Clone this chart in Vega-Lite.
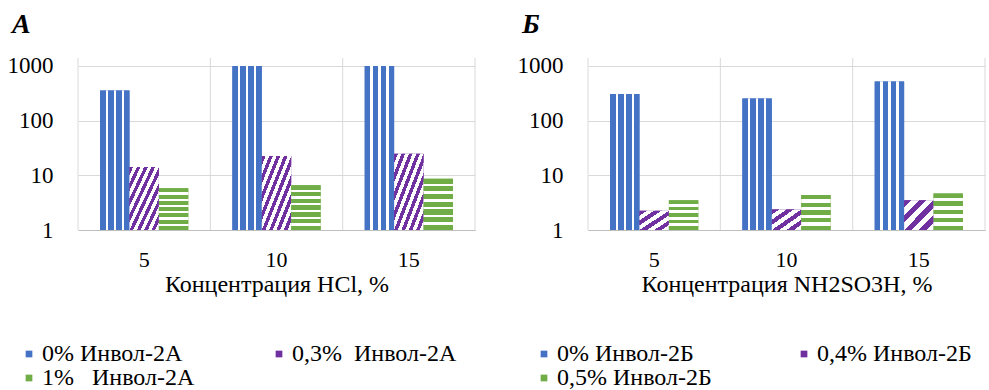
{
  "$schema": "https://vega.github.io/schema/vega-lite/v6.json",
  "background": "white",
  "padding": {"left": 7, "top": 10, "right": 0, "bottom": 0},
  "config": {"view": {"stroke": null}},
  "spacing": 41,
  "resolve": {"scale": {"color": "independent", "x": "independent", "y": "independent", "xOffset": "independent"}},
  "hconcat": [
    {
      "width": 397,
      "height": 172,
      "title": {"text": "А", "anchor": "start", "frame": "group", "dx": -66, "offset": 16, "fontSize": 28, "font": "Liberation Serif", "fontStyle": "italic", "fontWeight": "bold", "color": "#000000"},
      "data": {"values": [
        {"conc": "5", "series": "0% Инвол-2А", "value": 358},
        {"conc": "5", "series": "0,3%\u00a0\u00a0Инвол-2А", "value": 14.2},
        {"conc": "5", "series": "1%\u00a0\u00a0\u00a0Инвол-2А", "value": 5.8},
        {"conc": "10", "series": "0% Инвол-2А", "value": 1000},
        {"conc": "10", "series": "0,3%\u00a0\u00a0Инвол-2А", "value": 22.5},
        {"conc": "10", "series": "1%\u00a0\u00a0\u00a0Инвол-2А", "value": 6.6},
        {"conc": "15", "series": "0% Инвол-2А", "value": 1000},
        {"conc": "15", "series": "0,3%\u00a0\u00a0Инвол-2А", "value": 24.8},
        {"conc": "15", "series": "1%\u00a0\u00a0\u00a0Инвол-2А", "value": 8.7}
      ]},
      "resolve": {"scale": {"x": "independent", "y": "independent", "xOffset": "independent"}, "axis": {"x": "independent", "y": "independent"}},
      "layer": [
        {
          "data": {"values": [{"edge": 0}, {"edge": 1}, {"edge": 2}, {"edge": 3}]},
          "mark": {"type": "rule", "color": "#d9d9d9", "strokeWidth": 1},
          "encoding": {"x": {"field": "edge", "type": "quantitative", "scale": {"domain": [0, 3], "nice": false, "zero": false}, "axis": null}}
        },
        {
          "mark": {"type": "bar"},
          "encoding": {
            "x": {"field": "conc", "type": "ordinal", "scale": {"domain": ["5", "10", "15"], "paddingInner": 0, "paddingOuter": 0},
              "axis": {"title": "Концентрация HCl, %", "labelAngle": 0, "labelFont": "Liberation Serif", "titleFont": "Liberation Serif", "titleFontWeight": "normal", "labelFontSize": 22, "titleFontSize": 24, "labelPadding": 19, "titlePadding": 2, "ticks": false, "tickSize": 0, "domainColor": "#bfbfbf", "grid": false}},
            "xOffset": {"field": "series", "type": "nominal", "scale": {"domain": ["0% Инвол-2А", "0,3%\u00a0\u00a0Инвол-2А", "1%\u00a0\u00a0\u00a0Инвол-2А"], "paddingInner": 0, "paddingOuter": 0.75}},
            "y": {"field": "value", "type": "quantitative", "scale": {"type": "log", "domain": [1, 1400], "nice": false},
              "axis": {"title": null, "values": [1, 10, 100, 1000], "format": "d", "labelFont": "Liberation Serif", "labelFontSize": 23, "labelPadding": 25, "ticks": false, "tickSize": 0, "domain": false, "gridColor": "#d9d9d9"}},
            "y2": {"datum": 1},
            "color": {"field": "series", "type": "nominal",
              "scale": {"domain": ["0% Инвол-2А", "0,3%\u00a0\u00a0Инвол-2А", "1%\u00a0\u00a0\u00a0Инвол-2А"], "range": ["#4472C4", "#7030A0", "#70AD47"]},
              "legend": {"title": null, "orient": "none", "direction": "horizontal", "legendX": -61, "legendY": 284, "columns": 2, "columnPadding": 72, "labelFont": "Liberation Serif", "labelFontSize": 24, "labelOffset": 1, "symbolType": "square", "symbolSize": 45, "symbolStrokeWidth": 0, "rowPadding": 0, "padding": 0, "labelLimit": 300}}
          }
        },
        {
          "transform": [{"filter": {"field": "series", "equal": "0% Инвол-2А"}}],
          "mark": {"type": "bar", "fill": {"gradient": "linear", "x1": 0, "y1": 0, "x2": 1, "y2": 0, "stops": [
            {"offset": 0, "color": "#4472C4"}, {"offset": 0.19, "color": "#4472C4"}, {"offset": 0.19, "color": "#ffffff"}, {"offset": 0.27, "color": "#ffffff"},
            {"offset": 0.27, "color": "#4472C4"}, {"offset": 0.46, "color": "#4472C4"}, {"offset": 0.46, "color": "#ffffff"}, {"offset": 0.54, "color": "#ffffff"},
            {"offset": 0.54, "color": "#4472C4"}, {"offset": 0.73, "color": "#4472C4"}, {"offset": 0.73, "color": "#ffffff"}, {"offset": 0.81, "color": "#ffffff"},
            {"offset": 0.81, "color": "#4472C4"}, {"offset": 1, "color": "#4472C4"}]}},
          "encoding": {
            "x": {"field": "conc", "type": "ordinal", "scale": {"domain": ["5", "10", "15"], "paddingInner": 0, "paddingOuter": 0}, "axis": null},
            "xOffset": {"field": "series", "type": "nominal", "scale": {"domain": ["0% Инвол-2А", "0,3%\u00a0\u00a0Инвол-2А", "1%\u00a0\u00a0\u00a0Инвол-2А"], "paddingInner": 0, "paddingOuter": 0.75}},
            "y": {"field": "value", "type": "quantitative", "scale": {"type": "log", "domain": [1, 1400], "nice": false}, "axis": null},
            "y2": {"datum": 1}
          }
        },
        {
          "transform": [{"filter": {"field": "series", "equal": "0,3%\u00a0\u00a0Инвол-2А"}}],
          "mark": {"type": "bar", "fill": {"gradient": "linear", "x1": 0, "y1": 0, "x2": 1, "y2": 1, "stops": [
            {"offset": 0, "color": "#7030A0"}, {"offset": 0.0625, "color": "#7030A0"}, {"offset": 0.0625, "color": "#ffffff"}, {"offset": 0.125, "color": "#ffffff"},
            {"offset": 0.125, "color": "#7030A0"}, {"offset": 0.1875, "color": "#7030A0"}, {"offset": 0.1875, "color": "#ffffff"}, {"offset": 0.25, "color": "#ffffff"},
            {"offset": 0.25, "color": "#7030A0"}, {"offset": 0.3125, "color": "#7030A0"}, {"offset": 0.3125, "color": "#ffffff"}, {"offset": 0.375, "color": "#ffffff"},
            {"offset": 0.375, "color": "#7030A0"}, {"offset": 0.4375, "color": "#7030A0"}, {"offset": 0.4375, "color": "#ffffff"}, {"offset": 0.5, "color": "#ffffff"},
            {"offset": 0.5, "color": "#7030A0"}, {"offset": 0.5625, "color": "#7030A0"}, {"offset": 0.5625, "color": "#ffffff"}, {"offset": 0.625, "color": "#ffffff"},
            {"offset": 0.625, "color": "#7030A0"}, {"offset": 0.6875, "color": "#7030A0"}, {"offset": 0.6875, "color": "#ffffff"}, {"offset": 0.75, "color": "#ffffff"},
            {"offset": 0.75, "color": "#7030A0"}, {"offset": 0.8125, "color": "#7030A0"}, {"offset": 0.8125, "color": "#ffffff"}, {"offset": 0.875, "color": "#ffffff"},
            {"offset": 0.875, "color": "#7030A0"}, {"offset": 0.9375, "color": "#7030A0"}, {"offset": 0.9375, "color": "#ffffff"}, {"offset": 1, "color": "#ffffff"}]}},
          "encoding": {
            "x": {"field": "conc", "type": "ordinal", "scale": {"domain": ["5", "10", "15"], "paddingInner": 0, "paddingOuter": 0}, "axis": null},
            "xOffset": {"field": "series", "type": "nominal", "scale": {"domain": ["0% Инвол-2А", "0,3%\u00a0\u00a0Инвол-2А", "1%\u00a0\u00a0\u00a0Инвол-2А"], "paddingInner": 0, "paddingOuter": 0.75}},
            "y": {"field": "value", "type": "quantitative", "scale": {"type": "log", "domain": [1, 1400], "nice": false}, "axis": null},
            "y2": {"datum": 1}
          }
        },
        {
          "transform": [{"filter": {"field": "series", "equal": "1%\u00a0\u00a0\u00a0Инвол-2А"}}],
          "mark": {"type": "bar", "fill": {"gradient": "linear", "x1": 0, "y1": 0, "x2": 0, "y2": 1, "stops": [
            {"offset": 0, "color": "#70AD47"}, {"offset": 0.1, "color": "#70AD47"}, {"offset": 0.1, "color": "#ffffff"}, {"offset": 0.15, "color": "#ffffff"},
            {"offset": 0.15, "color": "#70AD47"}, {"offset": 0.25, "color": "#70AD47"}, {"offset": 0.25, "color": "#ffffff"}, {"offset": 0.3, "color": "#ffffff"},
            {"offset": 0.3, "color": "#70AD47"}, {"offset": 0.4, "color": "#70AD47"}, {"offset": 0.4, "color": "#ffffff"}, {"offset": 0.45, "color": "#ffffff"},
            {"offset": 0.45, "color": "#70AD47"}, {"offset": 0.55, "color": "#70AD47"}, {"offset": 0.55, "color": "#ffffff"}, {"offset": 0.6, "color": "#ffffff"},
            {"offset": 0.6, "color": "#70AD47"}, {"offset": 0.7, "color": "#70AD47"}, {"offset": 0.7, "color": "#ffffff"}, {"offset": 0.75, "color": "#ffffff"},
            {"offset": 0.75, "color": "#70AD47"}, {"offset": 0.85, "color": "#70AD47"}, {"offset": 0.85, "color": "#ffffff"}, {"offset": 0.9, "color": "#ffffff"},
            {"offset": 0.9, "color": "#70AD47"}, {"offset": 1, "color": "#70AD47"}]}},
          "encoding": {
            "x": {"field": "conc", "type": "ordinal", "scale": {"domain": ["5", "10", "15"], "paddingInner": 0, "paddingOuter": 0}, "axis": null},
            "xOffset": {"field": "series", "type": "nominal", "scale": {"domain": ["0% Инвол-2А", "0,3%\u00a0\u00a0Инвол-2А", "1%\u00a0\u00a0\u00a0Инвол-2А"], "paddingInner": 0, "paddingOuter": 0.75}},
            "y": {"field": "value", "type": "quantitative", "scale": {"type": "log", "domain": [1, 1400], "nice": false}, "axis": null},
            "y2": {"datum": 1}
          }
        }
      ]
    },
    {
      "width": 397,
      "height": 172,
      "title": {"text": "Б", "anchor": "start", "frame": "group", "dx": -66, "offset": 16, "fontSize": 28, "font": "Liberation Serif", "fontStyle": "italic", "fontWeight": "bold", "color": "#000000"},
      "data": {"values": [
        {"conc": "5", "series": "0% Инвол-2Б", "value": 306},
        {"conc": "5", "series": "0,4% Инвол-2Б", "value": 2.25},
        {"conc": "5", "series": "0,5% Инвол-2Б", "value": 3.5},
        {"conc": "10", "series": "0% Инвол-2Б", "value": 255},
        {"conc": "10", "series": "0,4% Инвол-2Б", "value": 2.38},
        {"conc": "10", "series": "0,5% Инвол-2Б", "value": 4.36},
        {"conc": "15", "series": "0% Инвол-2Б", "value": 521},
        {"conc": "15", "series": "0,4% Инвол-2Б", "value": 3.5},
        {"conc": "15", "series": "0,5% Инвол-2Б", "value": 4.67}
      ]},
      "resolve": {"scale": {"x": "independent", "y": "independent", "xOffset": "independent"}, "axis": {"x": "independent", "y": "independent"}},
      "layer": [
        {
          "data": {"values": [{"edge": 0}, {"edge": 1}, {"edge": 2}, {"edge": 3}]},
          "mark": {"type": "rule", "color": "#d9d9d9", "strokeWidth": 1},
          "encoding": {"x": {"field": "edge", "type": "quantitative", "scale": {"domain": [0, 3], "nice": false, "zero": false}, "axis": null}}
        },
        {
          "mark": {"type": "bar"},
          "encoding": {
            "x": {"field": "conc", "type": "ordinal", "scale": {"domain": ["5", "10", "15"], "paddingInner": 0, "paddingOuter": 0},
              "axis": {"title": "Концентрация NH2SO3H, %", "labelAngle": 0, "labelFont": "Liberation Serif", "titleFont": "Liberation Serif", "titleFontWeight": "normal", "labelFontSize": 22, "titleFontSize": 24, "labelPadding": 19, "titlePadding": 2, "ticks": false, "tickSize": 0, "domainColor": "#bfbfbf", "grid": false}},
            "xOffset": {"field": "series", "type": "nominal", "scale": {"domain": ["0% Инвол-2Б", "0,4% Инвол-2Б", "0,5% Инвол-2Б"], "paddingInner": 0, "paddingOuter": 0.75}},
            "y": {"field": "value", "type": "quantitative", "scale": {"type": "log", "domain": [1, 1400], "nice": false},
              "axis": {"title": null, "values": [1, 10, 100, 1000], "format": "d", "labelFont": "Liberation Serif", "labelFontSize": 23, "labelPadding": 25, "ticks": false, "tickSize": 0, "domain": false, "gridColor": "#d9d9d9"}},
            "y2": {"datum": 1},
            "color": {"field": "series", "type": "nominal",
              "scale": {"domain": ["0% Инвол-2Б", "0,4% Инвол-2Б", "0,5% Инвол-2Б"], "range": ["#4472C4", "#7030A0", "#70AD47"]},
              "legend": {"title": null, "orient": "none", "direction": "horizontal", "legendX": -56, "legendY": 284, "columns": 2, "columnPadding": 80, "labelFont": "Liberation Serif", "labelFontSize": 24, "labelOffset": 1, "symbolType": "square", "symbolSize": 45, "symbolStrokeWidth": 0, "rowPadding": 0, "padding": 0, "labelLimit": 300}}
          }
        },
        {
          "transform": [{"filter": {"field": "series", "equal": "0% Инвол-2Б"}}],
          "mark": {"type": "bar", "fill": {"gradient": "linear", "x1": 0, "y1": 0, "x2": 1, "y2": 0, "stops": [
            {"offset": 0, "color": "#4472C4"}, {"offset": 0.19, "color": "#4472C4"}, {"offset": 0.19, "color": "#ffffff"}, {"offset": 0.27, "color": "#ffffff"},
            {"offset": 0.27, "color": "#4472C4"}, {"offset": 0.46, "color": "#4472C4"}, {"offset": 0.46, "color": "#ffffff"}, {"offset": 0.54, "color": "#ffffff"},
            {"offset": 0.54, "color": "#4472C4"}, {"offset": 0.73, "color": "#4472C4"}, {"offset": 0.73, "color": "#ffffff"}, {"offset": 0.81, "color": "#ffffff"},
            {"offset": 0.81, "color": "#4472C4"}, {"offset": 1, "color": "#4472C4"}]}},
          "encoding": {
            "x": {"field": "conc", "type": "ordinal", "scale": {"domain": ["5", "10", "15"], "paddingInner": 0, "paddingOuter": 0}, "axis": null},
            "xOffset": {"field": "series", "type": "nominal", "scale": {"domain": ["0% Инвол-2Б", "0,4% Инвол-2Б", "0,5% Инвол-2Б"], "paddingInner": 0, "paddingOuter": 0.75}},
            "y": {"field": "value", "type": "quantitative", "scale": {"type": "log", "domain": [1, 1400], "nice": false}, "axis": null},
            "y2": {"datum": 1}
          }
        },
        {
          "transform": [{"filter": {"field": "series", "equal": "0,4% Инвол-2Б"}}],
          "mark": {"type": "bar", "fill": {"gradient": "linear", "x1": 0, "y1": 0, "x2": 1, "y2": 1, "stops": [
            {"offset": 0, "color": "#7030A0"}, {"offset": 0.125, "color": "#7030A0"}, {"offset": 0.125, "color": "#ffffff"}, {"offset": 0.25, "color": "#ffffff"},
            {"offset": 0.25, "color": "#7030A0"}, {"offset": 0.375, "color": "#7030A0"}, {"offset": 0.375, "color": "#ffffff"}, {"offset": 0.5, "color": "#ffffff"},
            {"offset": 0.5, "color": "#7030A0"}, {"offset": 0.625, "color": "#7030A0"}, {"offset": 0.625, "color": "#ffffff"}, {"offset": 0.75, "color": "#ffffff"},
            {"offset": 0.75, "color": "#7030A0"}, {"offset": 0.875, "color": "#7030A0"}, {"offset": 0.875, "color": "#ffffff"}, {"offset": 1, "color": "#ffffff"}]}},
          "encoding": {
            "x": {"field": "conc", "type": "ordinal", "scale": {"domain": ["5", "10", "15"], "paddingInner": 0, "paddingOuter": 0}, "axis": null},
            "xOffset": {"field": "series", "type": "nominal", "scale": {"domain": ["0% Инвол-2Б", "0,4% Инвол-2Б", "0,5% Инвол-2Б"], "paddingInner": 0, "paddingOuter": 0.75}},
            "y": {"field": "value", "type": "quantitative", "scale": {"type": "log", "domain": [1, 1400], "nice": false}, "axis": null},
            "y2": {"datum": 1}
          }
        },
        {
          "transform": [{"filter": {"field": "series", "equal": "0,5% Инвол-2Б"}}],
          "mark": {"type": "bar", "fill": {"gradient": "linear", "x1": 0, "y1": 0, "x2": 0, "y2": 1, "stops": [
            {"offset": 0, "color": "#70AD47"}, {"offset": 0.12, "color": "#70AD47"}, {"offset": 0.12, "color": "#ffffff"}, {"offset": 0.22, "color": "#ffffff"},
            {"offset": 0.22, "color": "#70AD47"}, {"offset": 0.34, "color": "#70AD47"}, {"offset": 0.34, "color": "#ffffff"}, {"offset": 0.44, "color": "#ffffff"},
            {"offset": 0.44, "color": "#70AD47"}, {"offset": 0.56, "color": "#70AD47"}, {"offset": 0.56, "color": "#ffffff"}, {"offset": 0.66, "color": "#ffffff"},
            {"offset": 0.66, "color": "#70AD47"}, {"offset": 0.78, "color": "#70AD47"}, {"offset": 0.78, "color": "#ffffff"}, {"offset": 0.88, "color": "#ffffff"},
            {"offset": 0.88, "color": "#70AD47"}, {"offset": 1, "color": "#70AD47"}]}},
          "encoding": {
            "x": {"field": "conc", "type": "ordinal", "scale": {"domain": ["5", "10", "15"], "paddingInner": 0, "paddingOuter": 0}, "axis": null},
            "xOffset": {"field": "series", "type": "nominal", "scale": {"domain": ["0% Инвол-2Б", "0,4% Инвол-2Б", "0,5% Инвол-2Б"], "paddingInner": 0, "paddingOuter": 0.75}},
            "y": {"field": "value", "type": "quantitative", "scale": {"type": "log", "domain": [1, 1400], "nice": false}, "axis": null},
            "y2": {"datum": 1}
          }
        }
      ]
    }
  ]
}
